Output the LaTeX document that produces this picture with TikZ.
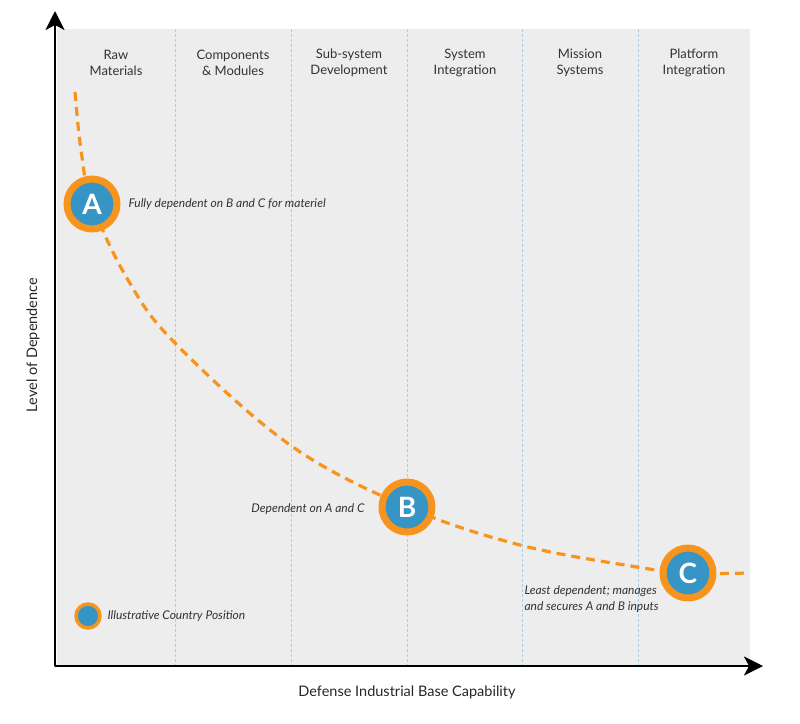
\documentclass[tikz,border=0pt]{standalone}
\usepackage{fontspec}
\setmainfont{Lato}
\usetikzlibrary{arrows.meta}
\definecolor{panelgray}{HTML}{EDEDED}
\definecolor{curveorange}{HTML}{F7941D}
\definecolor{markerblue}{HTML}{3795C5}
\definecolor{gridblue}{HTML}{A9CDE3}
\tikzset{
	country/.style={circle,fill=markerblue,draw=curveorange,line width=7pt,minimum size=50pt,inner sep=0pt,text=white,font=\fontsize{28}{28}\selectfont\bfseries},
	note/.style={font=\fontsize{12}{15.5}\selectfont\itshape,text=black!80,align=left},
	header/.style={font=\fontsize{13}{16}\selectfont,text=black!80,align=center}
}
\begin{document}
\begin{tikzpicture}[x=1pt,y=-1pt,>={Stealth[length=19pt,width=19pt,inset=5pt]},line join=round]
	\useasboundingbox (0,0) rectangle (800,723);
	\fill[panelgray] (57,29) rectangle (750,666);
	% column dividers and headers
	\foreach \x in {175,291,407,522,638}
		\draw[gridblue,line width=0.7pt,dash pattern=on 2.5pt off 2.5pt] (\x,29)--(\x,666);
	\foreach \x/\t [count=\i] in {116/{Raw\\Materials},233/{Components\\\& Modules},349/{Sub-system\\Development},465/{System\\Integration},580/{Mission\\Systems},694/{Platform\\Integration}}
		\node[header] (head\i) at (\x,63) {\t};
	% axes
	\coordinate (O) at (55,666);
	\coordinate (ytop) at (55,11);
	\coordinate (xend) at (763,666);
	\draw[line width=2.5pt,<->] (ytop)--(O)--(xend);
	\node[font=\fontsize{14.5}{17}\selectfont,text=black!85] (xlab) at (407,692) {Defense Industrial Base Capability};
	\node[font=\fontsize{14.5}{17}\selectfont,text=black!85,rotate=90] (ylab) at (33,345) {Level of Dependence};
	% dependence curve
	\coordinate (posA) at (92,204);
	\coordinate (posB) at (407,507);
	\coordinate (posC) at (688,573);
	\coordinate (cstart) at (75,92);
	\coordinate (cend) at (748,573);
	\draw[curveorange,line width=3.2pt,dash pattern=on 9pt off 6pt,smooth,tension=0.6] plot coordinates {(cstart) (81,150) (posA) (128,280) (175,343) (290,445) (posB) (520,545) (637,567) (posC) (cend)};
	\node[country] (A) at (posA) {A};
	\node[country] (B) at (posB) {B};
	\node[country] (C) at (posC) {C};
	\node[note,anchor=west] (noteA) at (125,204) {Fully dependent on B and C for materiel};
	\node[note,anchor=east] (noteB) at (368,509) {Dependent on A and C};
	\node[note,anchor=west] (noteC) at (521,599) {Least dependent; manages\\and secures A and B inputs};
	% legend
	\node[circle,fill=markerblue,draw=curveorange,line width=3.5pt,minimum size=24pt,inner sep=0pt] (key) at (88,616) {};
	\node[note,anchor=west] (keytext) at (104,616) {Illustrative Country Position};
\end{tikzpicture}
\end{document}
